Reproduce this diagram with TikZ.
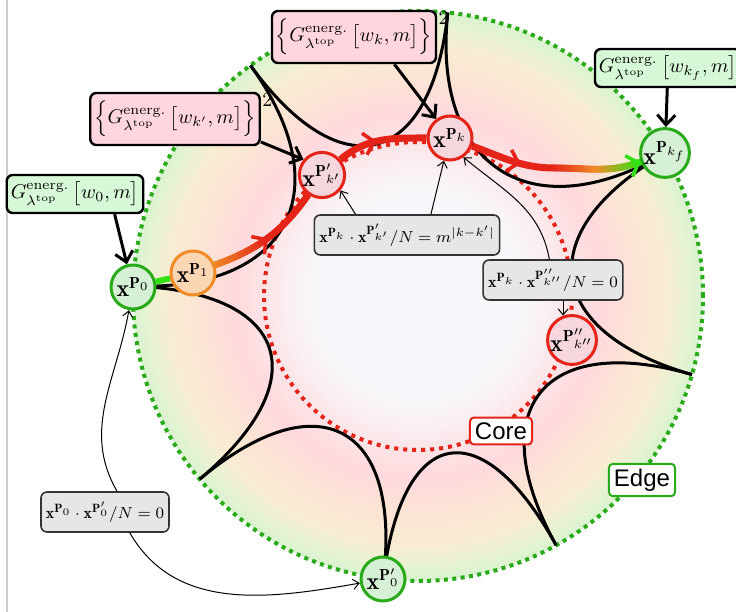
\documentclass[tikz,border=0pt]{standalone}
\usepackage{fontspec}
\usetikzlibrary{arrows.meta,decorations.markings,backgrounds}
\newfontfamily\labelsans{Liberation Sans}

\definecolor{edgegreen}{RGB}{40,170,25}
\definecolor{corered}{RGB}{228,35,25}
\definecolor{floworange}{RGB}{240,140,40}
\definecolor{flowgreen}{RGB}{50,225,20}
\definecolor{boxpink}{RGB}{255,214,222}
\definecolor{boxgreen}{RGB}{214,248,214}
\definecolor{boxgray}{RGB}{230,230,230}
\definecolor{nodegreen}{RGB}{214,240,214}
\definecolor{nodepink}{RGB}{245,214,220}
\definecolor{nodeorange}{RGB}{250,214,178}
\definecolor{shA}{RGB}{247,248,251}
\definecolor{shB}{RGB}{250,240,243}
\definecolor{shC}{RGB}{252,228,231}
\definecolor{shD}{RGB}{255,217,221}
\definecolor{shE}{RGB}{252,226,214}
\definecolor{shF}{RGB}{249,236,210}
\definecolor{shG}{RGB}{232,243,210}
\definecolor{shH}{RGB}{218,243,208}

\newcommand{\Generg}{G^{\mathrm{energ.}}_{\lambda^{\mathrm{top}}}}
\newcommand{\xP}[1]{\mathbf{x}^{\mathbf{P}#1}}

\tikzset{
  statenode/.style={circle, line width=1.5pt, minimum size=22pt, inner sep=0pt, font=\large},
  edgestate/.style={statenode, draw=edgegreen, fill=nodegreen},
  corestate/.style={statenode, draw=corered, fill=nodepink},
  midstate/.style={statenode, draw=floworange, fill=nodeorange},
  greenbox/.style={draw, line width=1.2pt, rounded corners=3pt, fill=boxgreen, inner sep=2pt, minimum height=19pt},
  pinkbox/.style={draw, line width=1.2pt, rounded corners=3pt, fill=boxpink, inner sep=2pt, minimum height=26pt},
  overlapbox/.style={draw=black!80, line width=0.8pt, rounded corners=3pt, fill=boxgray, inner sep=2.5pt, minimum height=20pt, font=\footnotesize},
  regionlabel/.style={fill=white, rounded corners=2pt, line width=1pt, font=\labelsans\large, inner sep=2.5pt},
  bigarrow/.style={-{Straight Barb[length=5pt,width=9pt]}, line width=1.5pt},
  thinarrow/.style={-{Straight Barb[length=3pt,width=5pt]}, line width=0.5pt},
  cusp/.style={line width=1.5pt},
  flowline/.style={corered, line width=3.5pt},
  flowtip/.style 2 args={postaction={decorate, decoration={markings,
    mark=at position #1 with {\draw[#2, line width=1.8pt, -{Straight Barb[length=5pt,width=11pt]}] (-1pt,0) -- (0,0);}}}},
  flowgrad/.style n args={3}{postaction={decorate, decoration={markings,
    mark=between positions 0 and 1 step 0.5pt with {
      \pgfmathsetmacro\flowt{\pgfkeysvalueof{/pgf/decoration/mark info/distance from start}/\pgfdecoratedpathlength}
      \pgfmathsetmacro\flowa{max(0,min(100,100-200*\flowt))}
      \pgfmathsetmacro\flowb{max(0,min(100,200-200*\flowt))}
      \fill[#1!\flowa!#2!\flowb!#3] (0,0) circle (1.75pt);}}}},
}

\begin{document}
\begin{tikzpicture}[x=0.5pt, y=0.5pt]
  \useasboundingbox (0,0) rectangle (736,612);
  \draw[gray!40, line width=0.5pt] (7,0) -- (7,612);
  \coordinate (O) at (418,316);
  \coordinate (flowmid) at (555,444);

  % states
  \node[edgestate] (P0) at (133,325) {$\xP{_0}$};
  \node[midstate] (P1) at (193,339) {$\xP{_1}$};
  \node[corestate] (Pkp) at (322,437) {$\xP{'_{k'}}$};
  \node[corestate] (Pk) at (450,474) {$\xP{_k}$};
  \node[edgestate] (Pkf) at (665,459) {$\xP{_{k_f}}$};
  \node[corestate] (Pkpp) at (572,272) {$\xP{''_{k''}}$};
  \node[edgestate] (P0p) at (383,33) {$\xP{'_0}$};

  % boxes
  \node[greenbox] (G0) at (75,418) {$\Generg\,\big[w_0, m\big]$};
  \node[pinkbox, label={[anchor=north west, inner sep=0.5pt]north east:$2$}] (Gkp) at (175,493) {$\Big\{\Generg\,\big[w_{k'}, m\big]\Big\}$};
  \node[pinkbox, label={[anchor=north west, inner sep=0.5pt]north east:$2$}] (Gk) at (354,575) {$\Big\{\Generg\,\big[w_k, m\big]\Big\}$};
  \node[greenbox] (Gkf) at (668,544) {$\Generg\,\big[w_{k_f}, m\big]$};
  \node[overlapbox] (dot1) at (407,377) {$\xP{_k}\cdot\xP{'_{k'}}/N = m^{|k-k'|}$};
  \node[overlapbox] (dot2) at (553,332) {$\xP{_k}\cdot\xP{''_{k''}}/N = 0$};
  \node[overlapbox] (dot3) at (105,100) {$\xP{_0}\cdot\xP{'_0}/N = 0$};
  \node[regionlabel, draw=corered] (core) at (501,181) {Core};
  \node[regionlabel, draw=edgegreen] (edge) at (642,132) {Edge};

  \begin{pgfonlayer}{background}
    % radial colour bands, edge to core
    \foreach \ra/\rb/\ca/\cb in {285/270/shH/shG, 270/250/shG/shF, 250/212/shF/shE, 212/185/shE/shD,
                                 185/155/shD/shC, 155/130/shC/shB, 130/100/shB/shA}
      \foreach \i in {0,...,9} {
        \pgfmathsetmacro\rr{\ra-\i*(\ra-\rb)/10}
        \pgfmathsetmacro\pp{10*\i}
        \fill[\cb!\pp!\ca] (O) circle (\rr);
      }
    \fill[shA] (O) circle (100);
    \draw[edgegreen, line width=2pt, dash pattern=on 2pt off 2.2pt] (O) circle (285);
    \draw[corered, line width=2pt, dash pattern=on 2pt off 2.5pt] (O) circle (154);
    \begin{scope}[shift={(O)}]
      \foreach \a/\b in {30/84, 84/126, 126/178, 178/220, 220/263, 263/299, 299/344, 344/390}
        \draw[cusp] (\a:285) .. controls (\a:130) and (\b:130) .. (\b:285);
    \end{scope}
    \draw[flowgreen, line width=3pt] (P0) -- (P1);
    \path[flowgrad={floworange}{corered}{corered}, flowtip={0.5}{corered}] (P1) to[out=20, in=235] (Pkp);
    \draw[flowline, flowtip={0.45}{corered}] (Pkp) to[out=40, in=180] (Pk);
    \draw[flowline, flowtip={0.6}{corered}] (Pk) to[out=-20, in=180] (flowmid);
    \path[flowgrad={corered}{floworange}{flowgreen}, flowtip={1}{flowgreen}] (flowmid) to[out=0, in=200] (Pkf);
  \end{pgfonlayer}

  % arrows
  \draw[bigarrow] (G0.-27) -- (P0.105);
  \draw[bigarrow] (Gkp.-15) -- (Pkp.140);
  \draw[bigarrow] (Gk.-34) -- (Pk.126);
  \draw[bigarrow] (Gkf) -- (Pkf);
  \draw[thinarrow] (dot1.158) -- (Pkp.-40);
  \draw[thinarrow] (dot1.41) -- (Pk.-105);
  \draw[thinarrow] (dot2.100) to[out=100, in=-40] (Pk.-55);
  \draw[thinarrow] (dot2.south -| Pkpp.110) -- (Pkpp.110);
  \draw[thinarrow] (dot3.60) to[out=120, in=-100] (P0);
  \draw[thinarrow] (dot3.-40) to[out=-60, in=190] (P0p);
\end{tikzpicture}
\end{document}
